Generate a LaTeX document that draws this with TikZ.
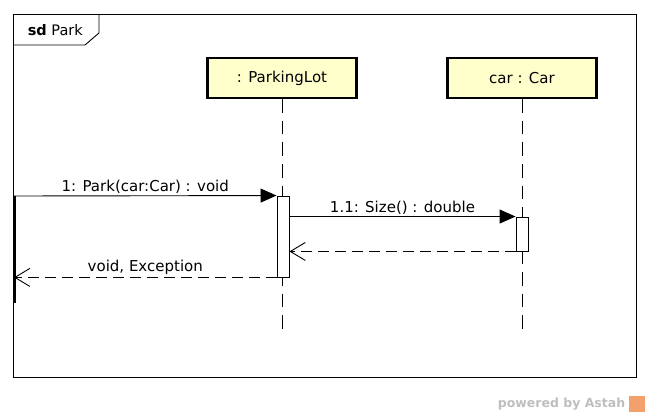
\documentclass[tikz,border=0pt]{standalone}
\usepackage{fontspec}
\setmainfont{DejaVu Sans}
\usetikzlibrary{positioning}
\usetikzlibrary {arrows.meta}
\definecolor{boxfill}{RGB}{255,255,204}
\definecolor{astahgray}{RGB}{190,190,190}
\definecolor{astahorange}{RGB}{242,160,110}

\begin{document}
\begin{tikzpicture}[x=1pt,y=-1pt,line width=0.9pt,
    font=\fontsize{15}{17}\selectfont,
    lifebox/.style={draw,line width=2.5pt,fill=boxfill,
        minimum width=149pt,minimum height=40pt,inner sep=0pt},
    lifeline/.style={dash pattern=on 13.6pt off 8pt},
    actbar/.style={draw,fill=white,minimum width=12pt,inner sep=0pt},
    call/.style={-{Triangle[length=16pt,width=14pt]}},
    reply/.style={dash pattern=on 11pt off 6pt,
        -{Straight Barb[length=15pt,width=18pt]}},
    msg/.style={above=1pt,inner sep=1pt}]
    \useasboundingbox (0,0) rectangle (649,417);
    %% 框
    \draw (13,14) rectangle (636,377);
    \draw (13,45) -- (85,45) -- (99,33) -- (99,14);
    \node[anchor=west,font=\fontsize{14.5}{16}\selectfont] (sd) at (24,30) {\textbf{sd} Park};
    %% 对象
    \node[lifebox] (pl) at (282,78) {: ParkingLot};
    \node[lifebox] (car) at (522,78) {car : Car};
    \coordinate (plend) at (282,330);
    \coordinate (carend) at (522,330);
    \draw[lifeline] (pl.south) -- (plend);
    \draw[lifeline] (car.south) -- (carend);
    %% 激活条
    \node[actbar,minimum height=81pt] (act1) at (283,236.5) {};
    \node[actbar,minimum height=34pt] (act2) at (522,234) {};
    %---
    \coordinate (src) at (14,196);
    \coordinate (srcend) at (14,303);
    \draw[line width=3pt] (src) -- (srcend);
    %% 消息
    \draw[call] (src) -- (act1.north west)
        node[midway,msg] (m1) {1: Park(car:Car) : void};
    \draw[call] (act1.east |- act2.north) -- (act2.north west)
        node[midway,msg] (m2) {1.1: Size() : double};
    \draw[reply] (act2.south west) -- (act2.south west -| act1.east);
    \draw[reply] (act1.south west) -- (act1.south west -| src)
        node[midway,msg] (m3) {void, Exception};
    % 文字
    \node[anchor=east,text=astahgray,font=\bfseries\fontsize{12.5}{14}\selectfont]
        (pw) at (629,404) {powered by Astah};
    \node[fill=astahorange,minimum size=16pt,inner sep=0pt,right=0pt of pw] (logo) {};
\end{tikzpicture}
\end{document}
